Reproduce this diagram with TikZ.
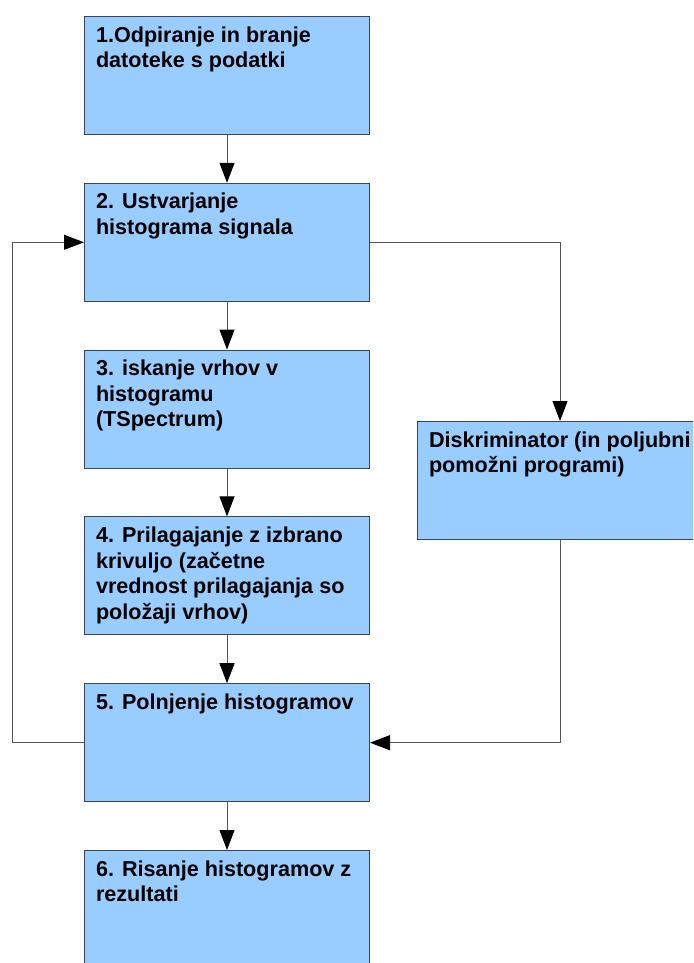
\documentclass[tikz,border=0pt]{standalone}
\usepackage{fontspec}
\setmainfont{Liberation Sans}
\usepackage{xcolor}
\usetikzlibrary{shapes, arrows.meta, positioning, calc}

\definecolor{boxfill}{HTML}{99CCFF}
\definecolor{boxline}{HTML}{3A4656}
\definecolor{flowline}{HTML}{555555}

\newcommand{\toptext}[1]{\parbox[c][98pt][t]{262pt}{\raggedright #1}}

\begin{document}
\begin{tikzpicture}[x=1pt, y=-1pt,
    stepbox/.style={draw=boxline, line width=1pt, fill=boxfill, rectangle,
      minimum width=285pt, minimum height=118pt, inner xsep=11.5pt, inner ysep=10pt,
      font=\fontsize{21.6}{25.6}\selectfont\bfseries},
    flow/.style={draw=flowline, line width=1pt,
      -{Triangle[length=20pt, width=15pt, black]}},
    node distance=47.8pt]
  \useasboundingbox (0,0) rectangle (693,963);
  \clip (0,0) rectangle (693,963);

  % main column
  \node[stepbox, anchor=north west] (open) at (84,16)
    {\toptext{1.Odpiranje in branje\\ datoteke s podatki}};
  \node[stepbox, below=of open] (hist)
    {\toptext{2. Ustvarjanje\\ histograma signala}};
  \node[stepbox, below=of hist] (peaks)
    {\toptext{3. iskanje vrhov v\\ histogramu\\ (TSpectrum)}};
  \node[stepbox, below=of peaks] (fit)
    {\toptext{4. Prilagajanje z izbrano\\ krivuljo (začetne\\ vrednost prilagajanja so\\ položaji vrhov)}};
  \node[stepbox, below=of fit] (fill)
    {\toptext{5. Polnjenje histogramov}};
  \node[stepbox, below=of fill] (draw)
    {\toptext{6. Risanje histogramov z\\ rezultati}};

  % side box
  \node[stepbox, anchor=north west] (diskr) at (417,421)
    {\toptext{Diskriminator (in poljubni\\ pomožni programi)}};

  % connectors
  \draw[flow] (open) -- (hist);
  \draw[flow] (hist) -- (peaks);
  \draw[flow] (peaks) -- (fit);
  \draw[flow] (fit) -- (fill);
  \draw[flow] (fill) -- (draw);
  \draw[flow] (fill.west) -- ++(-72,0) |- (hist.west);
  \draw[flow] (hist.east) -| (diskr.north);
  \draw[flow] (diskr.south) |- (fill.east);
\end{tikzpicture}
\end{document}
